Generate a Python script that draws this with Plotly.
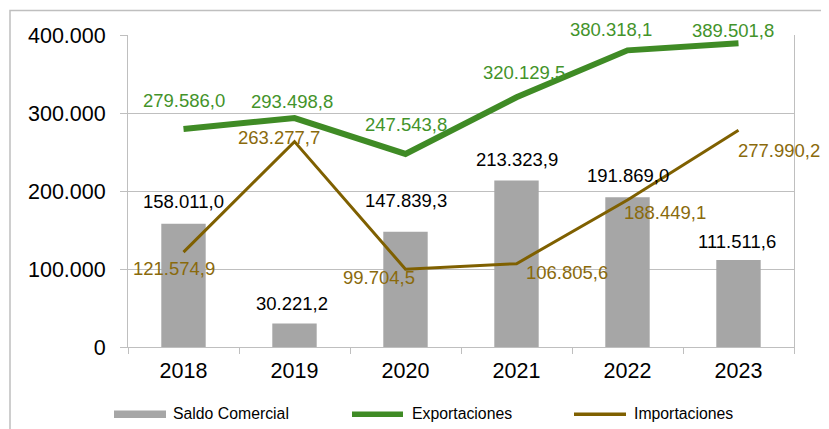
import plotly.graph_objects as go

# ---- data ----
years = ["2018", "2019", "2020", "2021", "2022", "2023"]
saldo = [158011.0, 30221.2, 147839.3, 213323.9, 191869.0, 111511.6]
exportaciones = [279586.0, 293498.8, 247543.8, 320129.5, 380318.1, 389501.8]
importaciones = [121574.9, 263277.7, 99704.5, 106805.6, 188449.1, 277990.2]
series_names = ["Saldo Comercial", "Exportaciones", "Importaciones"]
y_ticks = [0, 100000, 200000, 300000, 400000]

# ---- style ----
OFF = 8  # page body margin
W, H = 829 - OFF, 429 - OFF
PL, PT, PW, PH = 128, 35, 666, 312  # plot area in screenshot pixels
ML, MT = PL - OFF, PT - OFF
MR, MB = W - ML - PW, H - MT - PH
FONT = "Liberation Sans, Arial, sans-serif"
C_BAR = "#a6a6a6"
C_EXP = "#3f8b25"
C_IMP = "#7f6000"
C_EXP_TXT = "#43932a"
C_IMP_TXT = "#8a6a0c"
C_GRID = "#bfbfbf"

# label offsets in pixels (dx right, dy up)
exp_off = [(0, 28), (-3, 17), (0, 29), (7, 25), (-17, 21), (-6, 13)]
imp_off = [(-10, -16), (-16, 4), (-27, -8), (50, -9), (37, -12), (40, -20)]
sal_off = [(0, 22), (-3, 20), (0, 31), (0, 21), (0, 22), (-2, 19)]


def fmt(v):
    s = f"{v:,.1f}"
    return s.replace(",", "X").replace(".", ",").replace("X", ".")


def px(x):
    return (x - PL) / PW


def py(y):
    return (PT + PH - y) / PH


fig = go.Figure()
fig.add_trace(go.Bar(x=years, y=saldo, name=series_names[0], marker_color=C_BAR,
                     marker_line_width=0, showlegend=False))
fig.add_trace(go.Scatter(x=years, y=exportaciones, name=series_names[1], mode="lines",
                         line=dict(color=C_EXP, width=6), showlegend=False))
fig.add_trace(go.Scatter(x=years, y=importaciones, name=series_names[2], mode="lines",
                         line=dict(color=C_IMP, width=3), showlegend=False))

ann = []
for i, yr in enumerate(years):
    # category axis: annotation x given as category index
    ann.append(dict(x=i, y=exportaciones[i], text=fmt(exportaciones[i]), showarrow=False,
                    xshift=exp_off[i][0], yshift=exp_off[i][1],
                    font=dict(size=18.5, color=C_EXP_TXT, family=FONT)))
    ann.append(dict(x=i, y=importaciones[i], text=fmt(importaciones[i]), showarrow=False,
                    xshift=imp_off[i][0], yshift=imp_off[i][1],
                    font=dict(size=18.5, color=C_IMP_TXT, family=FONT)))
    ann.append(dict(x=i, y=saldo[i], text=fmt(saldo[i]), showarrow=False,
                    xshift=sal_off[i][0], yshift=sal_off[i][1],
                    font=dict(size=18.5, color="#000000", family=FONT)))

# outer frame + custom legend
shapes = [
    dict(type="rect", xref="paper", yref="paper", x0=px(10), x1=px(900), y0=py(10.5), y1=py(500),
         line=dict(color=C_GRID, width=1.5), fillcolor="rgba(0,0,0,0)", layer="below"),
    dict(type="rect", xref="paper", yref="paper", x0=px(114), x1=px(166), y0=py(418), y1=py(410.5),
         line=dict(width=0), fillcolor=C_BAR),
    dict(type="line", xref="paper", yref="paper", x0=px(352), x1=px(403), y0=py(414.3), y1=py(414.3),
         line=dict(color=C_EXP, width=5.5)),
    dict(type="line", xref="paper", yref="paper", x0=px(574), x1=px(626), y0=py(414.3), y1=py(414.3),
         line=dict(color=C_IMP, width=3.5)),
]
for name, xp in zip(series_names, [171, 410, 632]):
    ann.append(dict(xref="paper", yref="paper", x=px(xp), y=py(414), text=name, showarrow=False,
                    xanchor="left", yanchor="middle", font=dict(size=15.8, color="#000000", family=FONT)))

fig.update_layout(
    width=W, height=H,
    margin=dict(l=ML, r=MR, t=MT, b=MB, autoexpand=False),
    paper_bgcolor="white", plot_bgcolor="white",
    font=dict(family=FONT, color="#000000"),
    separators=",.",
    bargap=0.6,
    showlegend=False,
    annotations=ann,
    shapes=shapes,
    xaxis=dict(type="category", range=[-0.5, len(years) - 0.5], showline=True, linecolor=C_GRID,
               linewidth=1, ticks="outside", tickson="boundaries", ticklen=6, tickcolor=C_GRID,
               showgrid=False, tickangle=0, tickfont=dict(size=21.5, color="#000000"),
               ticklabelstandoff=4),
    yaxis=dict(range=[0, 400000], tickvals=y_ticks, tickformat=",d",
               showline=True, mirror=True, linecolor=C_GRID, linewidth=1,
               ticks="outside", ticklen=7, tickcolor=C_GRID,
               showgrid=True, gridcolor=C_GRID, gridwidth=1, zeroline=False,
               tickfont=dict(size=21.5, color="#000000"), ticklabelstandoff=10),
)

fig.write_html("out.html")
